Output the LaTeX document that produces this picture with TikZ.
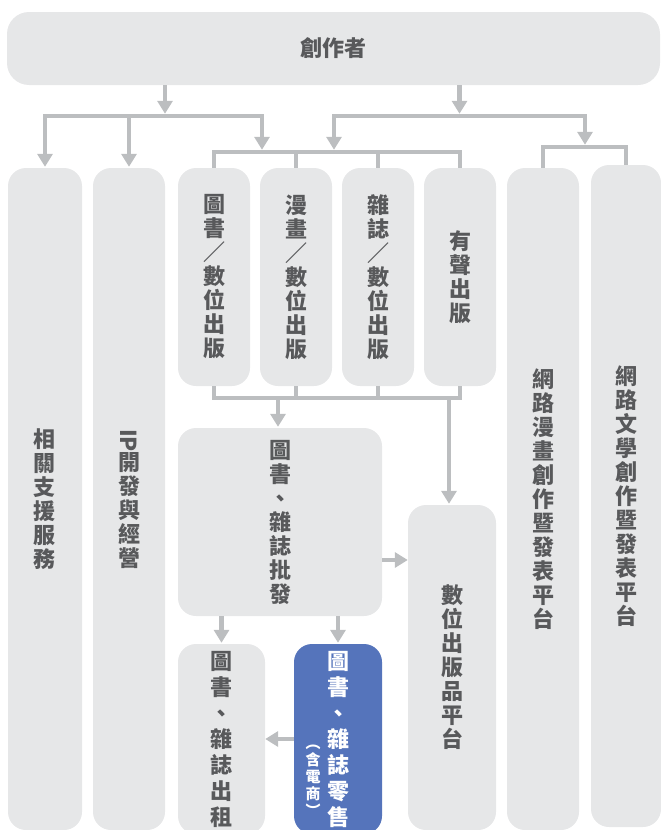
\documentclass[tikz,border=0pt]{standalone}
\usepackage{fontspec}
\newfontfamily\cjk{Noto Sans CJK TC}
\usetikzlibrary{arrows.meta}
\definecolor{boxgray}{HTML}{E6E7E8}
\definecolor{arrgray}{HTML}{BCBEC0}
\definecolor{txtgray}{HTML}{58595B}
\definecolor{bluebox}{HTML}{5574BB}
\begin{document}
\begin{tikzpicture}[x=1pt,y=-1pt,
  box/.style={fill=boxgray, rounded corners=18pt, inner sep=0pt, align=center, text=txtgray,
    font=\cjk\bfseries\fontsize{22}{24}\selectfont},
  bigbox/.style={box, font=\cjk\bfseries\fontsize{22}{26}\selectfont},
  arr/.style={draw=arrgray, line width=4.5pt, -{Triangle[width=15pt,length=13pt]}},
  ln/.style={draw=arrgray, line width=4.5pt},
  bar/.style={draw=arrgray, line width=4.5pt, line cap=rect}]
\useasboundingbox (0,0) rectangle (661,830);

% boxes
\node[box, rounded corners=22pt, minimum width=653pt, minimum height=73pt] (creator) at (333.5,48.5) {創作者};
\node[box, minimum width=74pt, minimum height=662pt] (support) at (45,499) {相\\關\\支\\援\\服\\務};
\node[box, minimum width=72pt, minimum height=662pt] (ip) at (129,499)
  {\raisebox{-2pt}{\rotatebox[origin=c]{-90}{IP}}\\開\\發\\與\\經\\營};
\node[box, minimum width=72pt, minimum height=218pt] (book) at (214,277) {圖\\書\\／\\數\\位\\出\\版};
\node[box, minimum width=72pt, minimum height=218pt] (comic) at (296,277) {漫\\畫\\／\\數\\位\\出\\版};
\node[box, minimum width=72pt, minimum height=218pt] (mag) at (378,277) {雜\\誌\\／\\數\\位\\出\\版};
\node[box, minimum width=72pt, minimum height=218pt] (audio) at (460,277) {有\\聲\\出\\版};
\node[box, minimum width=72pt, minimum height=662pt] (webcomic) at (543,499) {網\\路\\漫\\畫\\創\\作\\暨\\發\\表\\平\\台};
\node[box, minimum width=70pt, minimum height=662pt] (weblit) at (626,496) {網\\路\\文\\學\\創\\作\\暨\\發\\表\\平\\台};
\node[box, minimum width=204pt, minimum height=188pt] (batch) at (280,522) {圖\\書\\、\\雜\\誌\\批\\發};
\node[box, minimum width=88pt, minimum height=325pt] (digital) at (452,667.5) {數\\位\\出\\版\\品\\平\\台};
\node[bigbox, minimum width=87pt, minimum height=190pt] (rent) at (221.5,739) {圖\\書\\、\\雜\\誌\\出\\租};
\node[bigbox, fill=bluebox, text=white, minimum width=88pt, minimum height=190pt] (retail) at (338,739) {圖\\書\\、\\雜\\誌\\零\\售};
\node[text=white, inner sep=0pt, align=center, font=\cjk\bfseries\fontsize{15}{17}\selectfont]
  (ecom) at (313,781) {︵\\含\\電\\商\\︶};

% junction coordinates
\coordinate (jL1) at (45,116);
\coordinate (jL2) at (129,116);
\coordinate (jL3) at (262,116);
\coordinate (jC1) at (165,116);
\coordinate (jR1) at (334,116);
\coordinate (jR2) at (459.5,116);
\coordinate (jR3) at (585,116);
\coordinate (mB1) at (214,152);
\coordinate (mB4) at (460,152);
\coordinate (sB1) at (543,147);
\coordinate (sB2) at (626,147);
\coordinate (lB1) at (214,398);
\coordinate (lB4) at (460,398);
\coordinate (lBa) at (278,398);
\coordinate (lBb) at (449,398);
\coordinate (yside) at (0,560);

% creator down arrows
\draw[arr] (creator.south -| jC1) -- ([yshift=2.25pt]jC1);
\draw[arr] (creator.south -| jR2) -- ([yshift=2.25pt]jR2);
% left bar
\draw[bar] (jL1) -- (jL3);
\draw[arr] (jL1) -- ([yshift=1pt]support.north);
\draw[arr] (jL2) -- ([yshift=1pt]ip.north);
\draw[arr] (jL3) -- ([yshift=2.25pt]jL3 |- mB1);
% right bar
\draw[bar] (jR1) -- (jR3);
\draw[arr] (jR1) -- ([yshift=2.25pt]jR1 |- mB1);
\draw[arr] (jR3) -- ([yshift=2.25pt]jR3 |- sB1);
% sub bar for web platforms
\draw[bar] (sB1) -- (sB2);
\draw[ln] (sB1) -- (webcomic.north);
\draw[ln] (sB2) -- (weblit.north);
% middle bar
\draw[bar] (mB1) -- (mB4);
\draw[ln] (mB1) -- (book.north);
\draw[ln] (mB1 -| comic) -- (comic.north);
\draw[ln] (mB1 -| mag) -- (mag.north);
\draw[ln] (mB4) -- (audio.north);
% lower bar
\draw[bar] (lB1) -- (lB4);
\draw[ln] (book.south) -- (lB1);
\draw[ln] (comic.south) -- (lB1 -| comic);
\draw[ln] (mag.south) -- (lB1 -| mag);
\draw[ln] (audio.south) -- (lB4);
\draw[arr] (lBa) -- ([yshift=1pt]batch.north -| lBa);
\draw[arr] (lBb) -- ([yshift=1pt]digital.north -| lBb);
% batch outputs
\draw[arr] (batch.east |- yside) -- (digital.west |- yside);
\draw[arr] (batch.south -| rent) -- ([yshift=1pt]rent.north);
\draw[arr] (batch.south -| retail) -- ([yshift=1pt]retail.north);
\draw[arr] (retail.west) -- (rent.east);
\end{tikzpicture}
\end{document}
